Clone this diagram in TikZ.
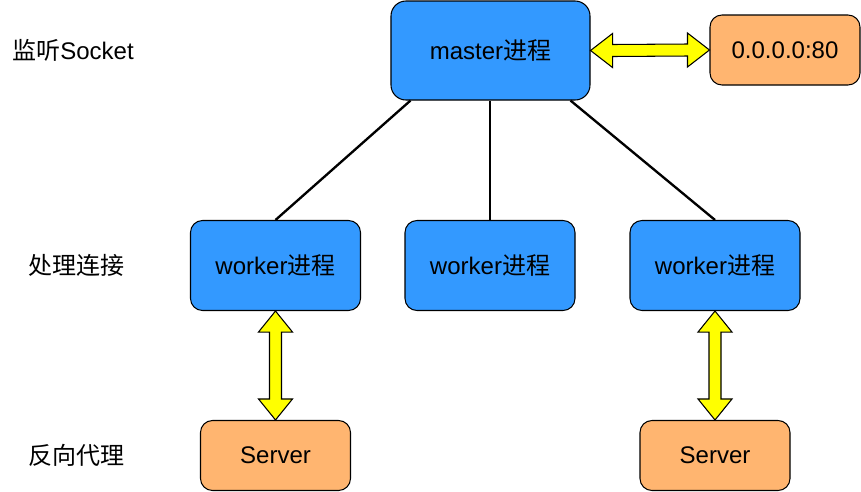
\documentclass[tikz,border=0pt]{standalone}
\usepackage{fontspec}
\setmainfont{Liberation Sans}
\newfontfamily\cjk{Noto Sans CJK SC}
\usetikzlibrary{calc}
\definecolor{procblue}{HTML}{3399FF}
\definecolor{hostorange}{HTML}{FFB570}
\definecolor{pipeyellow}{HTML}{FFFF00}

\tikzset{
    box/.style={draw=black, line width=0.9pt, rounded corners=0.36cm, align=center,
        font=\fontsize{20.5}{24}\selectfont},
    proc/.style={box, fill=procblue, minimum width=5.1cm, minimum height=2.7cm},
    host/.style={box, fill=hostorange, minimum width=4.5cm, minimum height=2.1cm},
    tag/.style={anchor=west, inner sep=0pt, font=\fontsize{20.5}{24}\selectfont},
    link/.style={line width=2pt, black},
    pipe/.style={draw=black, line width=0.9pt, fill=pipeyellow, line join=miter}
}

% two-way arrows, left-right and up-down
\newcommand{\hway}[2]{%
    \path[pipe] (#1) -- ++(22,-17) -- ++(0,11) -- ($(#2)+(-22,-6)$) -- ++(0,-11)
        -- (#2) -- ++(-22,17) -- ++(0,-11) -- ($(#1)+(22,6)$) -- ++(0,11) -- cycle;}
\newcommand{\vway}[2]{%
    \path[pipe] (#1) -- ++(17,21) -- ++(-11,0) -- ($(#2)+(6,-21)$) -- ++(11,0)
        -- (#2) -- ++(-17,-21) -- ++(11,0) -- ($(#1)+(-6,21)$) -- ++(-11,0) -- cycle;}

\begin{document}
\begin{tikzpicture}[x=0.03cm, y=-0.03cm]
\useasboundingbox (0,0) rectangle (861,491);

% processes
\node[proc, minimum width=5.97cm, minimum height=2.97cm, rounded corners=0.45cm] (master) at (490.5,50.5) {master{\cjk 进程}};
\node[host] (addr) at (785,50) {0.0.0.0:80};
\node[proc] (w1) at (275.5,265.5) {worker{\cjk 进程}};
\node[proc] (w2) at (490,265.5) {worker{\cjk 进程}};
\node[proc] (w3) at (715,265.5) {worker{\cjk 进程}};
\node[host] (s1) at (275.5,455.5) {Server};
\node[host] (s2) at (715,455.5) {Server};

% row labels
\node[tag] (listen) at (12,50) {{\cjk 监听}Socket};
\node[tag] (handle) at (28,265) {\cjk 处理连接};
\node[tag] (proxy) at (28,455) {\cjk 反向代理};

% master to workers
\draw[link] ($(master.south)+(-80,0)$) -- (w1.north);
\draw[link] (master.south -| w2.north) -- (w2.north);
\draw[link] ($(master.south)+(80,0)$) -- (w3.north);

% traffic
\hway{master.east}{addr.west}
\vway{w1.south}{s1.north}
\vway{w3.south}{s2.north}
\end{tikzpicture}
\end{document}
